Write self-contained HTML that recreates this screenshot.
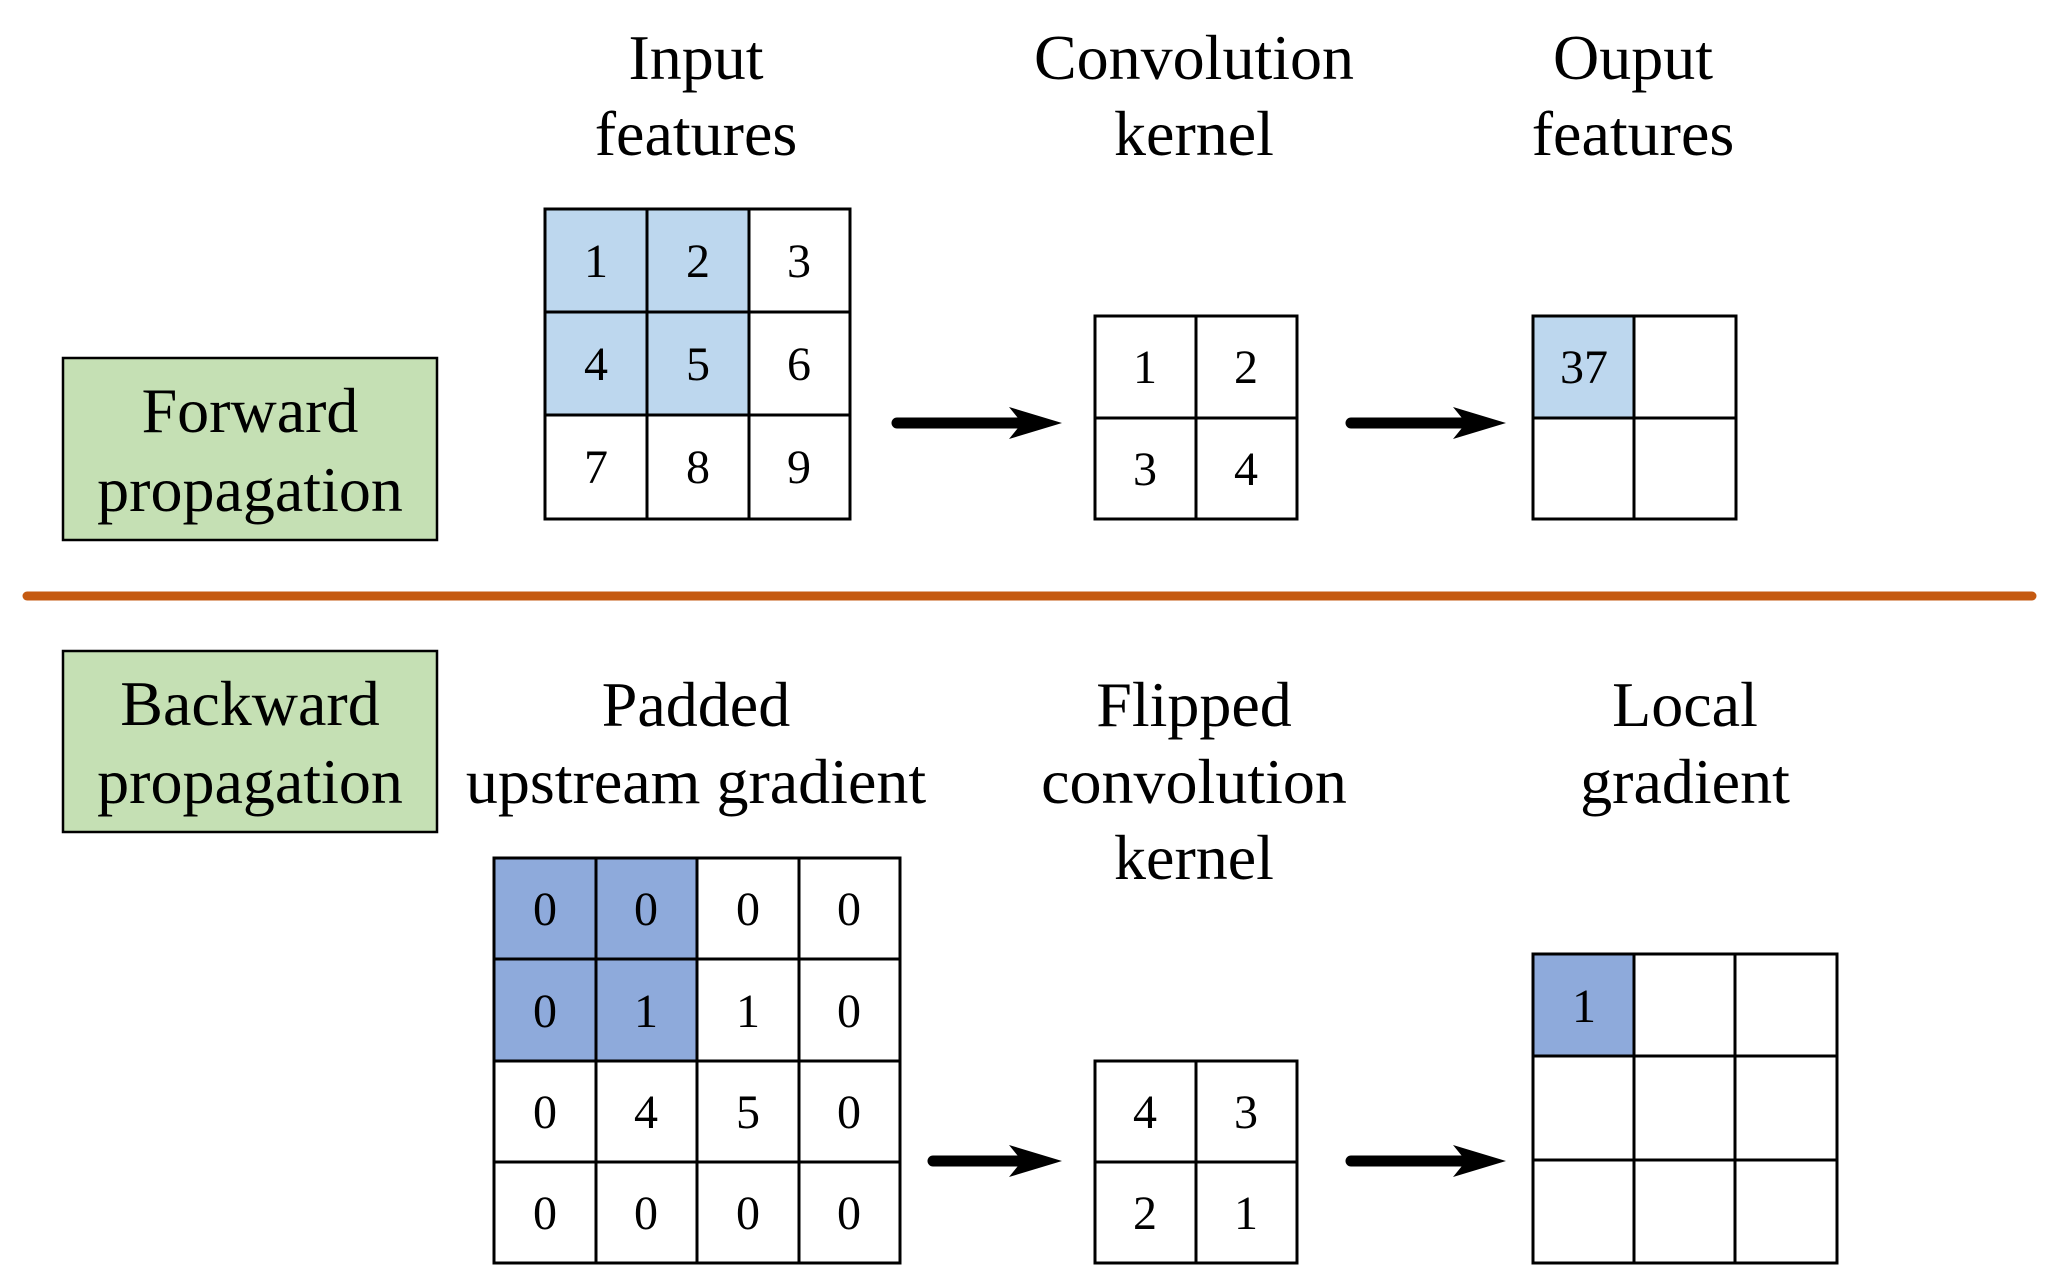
<!DOCTYPE html>
<html><head><meta charset="utf-8"><style>
html,body{margin:0;padding:0;background:#fff;}
svg{display:block;}
text{font-family:"Liberation Serif",serif;fill:#000;}
.t{font-size:64px;text-anchor:middle;}
.n{font-size:48px;text-anchor:middle;}
</style></head><body>
<svg width="2060" height="1282" viewBox="0 0 2060 1282" xmlns="http://www.w3.org/2000/svg">
<defs>
<marker id="ah" markerWidth="10" markerHeight="10" refX="0" refY="0" orient="auto" viewBox="0 -5 10 10"></marker>
</defs>
<!-- titles top -->
<text class="t" x="696" y="79">Input</text>
<text class="t" x="696" y="155">features</text>
<text class="t" x="1194" y="79">Convolution</text>
<text class="t" x="1194" y="155">kernel</text>
<text class="t" x="1633" y="79">Ouput</text>
<text class="t" x="1633" y="155">features</text>
<!-- forward box -->
<rect x="63" y="358" width="374" height="182" fill="#c5e0b4" stroke="#000" stroke-width="2.5"/>
<text class="t" x="250" y="432">Forward</text>
<text class="t" x="250" y="511">propagation</text>
<!-- input grid -->
<g stroke="#000" stroke-width="3">
<rect x="545" y="209" width="204" height="206" fill="#bdd7ee" stroke="none"/>
<rect x="545" y="209" width="305" height="310" fill="none"/>
<line x1="647" y1="209" x2="647" y2="519"/><line x1="749" y1="209" x2="749" y2="519"/>
<line x1="545" y1="312" x2="850" y2="312"/><line x1="545" y1="415" x2="850" y2="415"/>
</g>
<text class="n" x="596" y="277">1</text><text class="n" x="698" y="277">2</text><text class="n" x="799" y="277">3</text>
<text class="n" x="596" y="380">4</text><text class="n" x="698" y="380">5</text><text class="n" x="799" y="380">6</text>
<text class="n" x="596" y="483">7</text><text class="n" x="698" y="483">8</text><text class="n" x="799" y="483">9</text>
<!-- kernel -->
<g stroke="#000" stroke-width="3" fill="none">
<rect x="1095" y="316" width="202" height="203"/>
<line x1="1196" y1="316" x2="1196" y2="519"/><line x1="1095" y1="418" x2="1297" y2="418"/>
</g>
<text class="n" x="1145" y="383">1</text><text class="n" x="1246" y="383">2</text>
<text class="n" x="1145" y="485">3</text><text class="n" x="1246" y="485">4</text>
<!-- output -->
<rect x="1533" y="316" width="101" height="102" fill="#bdd7ee"/>
<g stroke="#000" stroke-width="3" fill="none">
<rect x="1533" y="316" width="203" height="203"/>
<line x1="1634" y1="316" x2="1634" y2="519"/><line x1="1533" y1="418" x2="1736" y2="418"/>
</g>
<text class="n" x="1584" y="383">37</text>
<!-- arrows top -->
<g fill="#000">
<line x1="897" y1="423" x2="1020" y2="423" stroke="#000" stroke-width="11" stroke-linecap="round"/>
<polygon points="1009,407 1062,423 1009,439 1022,423"/>
<line x1="1351" y1="423" x2="1465" y2="423" stroke="#000" stroke-width="11" stroke-linecap="round"/>
<polygon points="1453,407 1506,423 1453,439 1466,423"/>
</g>
<!-- orange divider -->
<line x1="27" y1="596" x2="2032" y2="596" stroke="#c55a11" stroke-width="9" stroke-linecap="round"/>
<!-- backward box -->
<rect x="63" y="651" width="374" height="181" fill="#c5e0b4" stroke="#000" stroke-width="2.5"/>
<text class="t" x="250" y="725">Backward</text>
<text class="t" x="250" y="803">propagation</text>
<!-- titles bottom -->
<text class="t" x="696" y="726">Padded</text>
<text class="t" x="696" y="803">upstream gradient</text>
<text class="t" x="1194" y="726">Flipped</text>
<text class="t" x="1194" y="803">convolution</text>
<text class="t" x="1194" y="879">kernel</text>
<text class="t" x="1685" y="726">Local</text>
<text class="t" x="1685" y="803">gradient</text>
<!-- padded grid -->
<rect x="494" y="858" width="203" height="203" fill="#8eaadb"/>
<g stroke="#000" stroke-width="3" fill="none">
<rect x="494" y="858" width="406" height="405"/>
<line x1="596" y1="858" x2="596" y2="1263"/><line x1="697" y1="858" x2="697" y2="1263"/><line x1="799" y1="858" x2="799" y2="1263"/>
<line x1="494" y1="959" x2="900" y2="959"/><line x1="494" y1="1061" x2="900" y2="1061"/><line x1="494" y1="1162" x2="900" y2="1162"/>
</g>
<g>
<text class="n" x="545" y="925">0</text><text class="n" x="646" y="925">0</text><text class="n" x="748" y="925">0</text><text class="n" x="849" y="925">0</text>
<text class="n" x="545" y="1027">0</text><text class="n" x="646" y="1027">1</text><text class="n" x="748" y="1027">1</text><text class="n" x="849" y="1027">0</text>
<text class="n" x="545" y="1128">0</text><text class="n" x="646" y="1128">4</text><text class="n" x="748" y="1128">5</text><text class="n" x="849" y="1128">0</text>
<text class="n" x="545" y="1229">0</text><text class="n" x="646" y="1229">0</text><text class="n" x="748" y="1229">0</text><text class="n" x="849" y="1229">0</text>
</g>
<!-- flipped kernel -->
<g stroke="#000" stroke-width="3" fill="none">
<rect x="1095" y="1061" width="202" height="202"/>
<line x1="1196" y1="1061" x2="1196" y2="1263"/><line x1="1095" y1="1162" x2="1297" y2="1162"/>
</g>
<text class="n" x="1145" y="1128">4</text><text class="n" x="1246" y="1128">3</text>
<text class="n" x="1145" y="1229">2</text><text class="n" x="1246" y="1229">1</text>
<!-- local gradient -->
<rect x="1533" y="954" width="101" height="102" fill="#8eaadb"/>
<g stroke="#000" stroke-width="3" fill="none">
<rect x="1533" y="954" width="304" height="309"/>
<line x1="1634" y1="954" x2="1634" y2="1263"/><line x1="1735" y1="954" x2="1735" y2="1263"/>
<line x1="1533" y1="1056" x2="1837" y2="1056"/><line x1="1533" y1="1160" x2="1837" y2="1160"/>
</g>
<text class="n" x="1584" y="1022">1</text>
<!-- arrows bottom -->
<g fill="#000">
<line x1="933" y1="1161" x2="1020" y2="1161" stroke="#000" stroke-width="11" stroke-linecap="round"/>
<polygon points="1009,1145 1062,1161 1009,1177 1022,1161"/>
<line x1="1351" y1="1161" x2="1465" y2="1161" stroke="#000" stroke-width="11" stroke-linecap="round"/>
<polygon points="1453,1145 1506,1161 1453,1177 1466,1161"/>
</g>
</svg>
</body></html>
